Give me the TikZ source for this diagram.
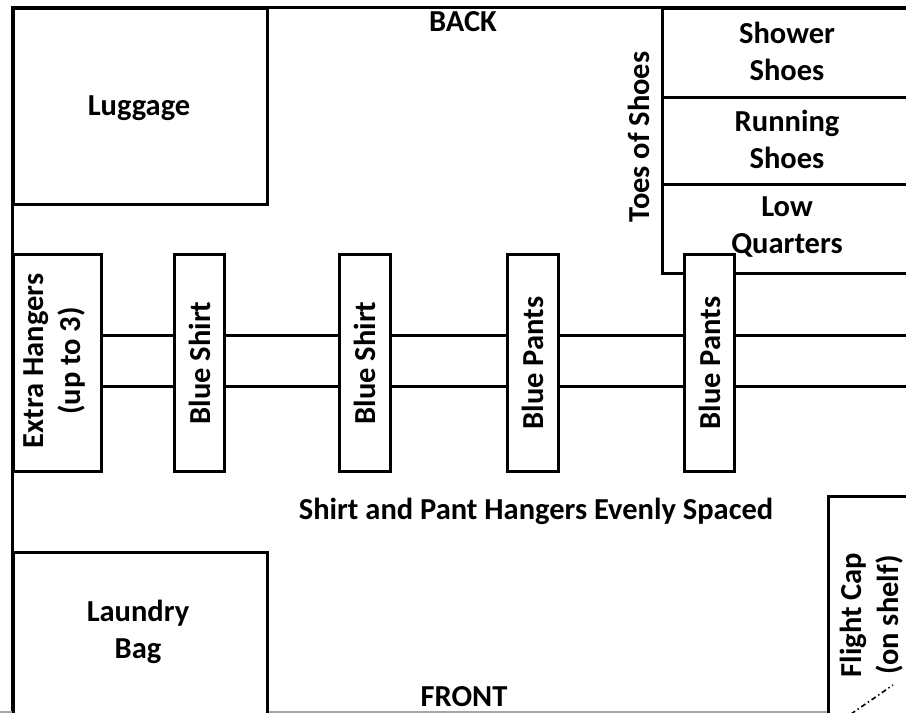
\documentclass[tikz,border=0pt]{standalone}
\usepackage{fontspec}
\setmainfont{Carlito}
\begin{document}
\begin{tikzpicture}[x=1pt,y=-1pt,
  wall/.style={draw=black, line width=3pt},
  box/.style={draw=black, fill=white, line width=3pt, inner sep=0pt, anchor=north west},
  lbl/.style={align=center, inner sep=0pt, font=\bfseries\fontsize{30.5}{37}\selectfont},
  vlbl/.style={lbl, rotate=90}]
\useasboundingbox (0,0) rectangle (906,713);
\fill[white] (0,0) rectangle (906,713);
\clip (0,0) rectangle (906,713);
% walls
\coordinate (tr) at (910,7);
\coordinate (tl) at (12,7);
\coordinate (bl) at (12,716);
\draw[wall] (tr) -- (tl) -- (bl);
\draw[gray!70, line width=1.5pt] (0,712) -- (906,712);
% luggage and laundry
\node[box, minimum width=254pt, minimum height=196pt] (lug) at (12,7) {};
\node[lbl] at (139,108) {Luggage};
\node[box, minimum width=254pt, minimum height=170pt] (laundry) at (12,551) {};
\node[lbl] at (138,632) {Laundry\\Bag};
% shoe shelf
\node[box, minimum width=250pt, minimum height=89pt] (shower) at (661,7) {};
\node[box, minimum width=250pt, minimum height=87pt] (running) at (661,96) {};
\node[box, minimum width=250pt, minimum height=89pt] (lowq) at (661,183) {};
\node[vlbl] (toes) at (639,137) {Toes of Shoes};
% rods
\coordinate (r1) at (910,335);
\coordinate (r2) at (910,386);
% hanger boxes
\node[box, minimum width=88pt, minimum height=217pt] (extra) at (12,253) {};
\draw[wall] (extra.east |- r1) -- (r1);
\draw[wall] (extra.east |- r2) -- (r2);
\node[vlbl] at (55,361) {Extra Hangers\\(up to 3)};
\node[box, minimum width=50pt, minimum height=217pt] (bs1) at (173,253) {};
\node[vlbl] at (bs1.center) {Blue Shirt};
\node[box, minimum width=51pt, minimum height=217pt] (bs2) at (338,253) {};
\node[vlbl] at (bs2.center) {Blue Shirt};
\node[box, minimum width=51pt, minimum height=217pt] (bp1) at (506,253) {};
\node[vlbl] at (bp1.center) {Blue Pants};
\node[box, minimum width=50pt, minimum height=217pt] (bp2) at (683,253) {};
\node[vlbl] at (bp2.center) {Blue Pants};
% shoe labels (drawn after boxes)
\node[lbl] at (787,51) {Shower\\Shoes};
\node[lbl] at (787,139) {Running\\Shoes};
\node[lbl] at (787,227) {Low\\Quarters};
% texts
\node[lbl] (back) at (463,22) {BACK};
\node[lbl] (front) at (464,697) {FRONT};
\node[lbl] (even) at (536,511) {Shirt and Pant Hangers Evenly Spaced};
% flight cap
\node[box, minimum width=90pt, minimum height=230pt] (cap) at (827,495) {};
\node[vlbl] at (872,615) {Flight Cap\\(on shelf)};
\coordinate (d1) at (851,714);
\coordinate (d2) at (893,685);
\draw[line width=1.6pt, dash pattern=on 5pt off 3pt on 1.5pt off 3pt] (d1) -- (d2);
\end{tikzpicture}
\end{document}
